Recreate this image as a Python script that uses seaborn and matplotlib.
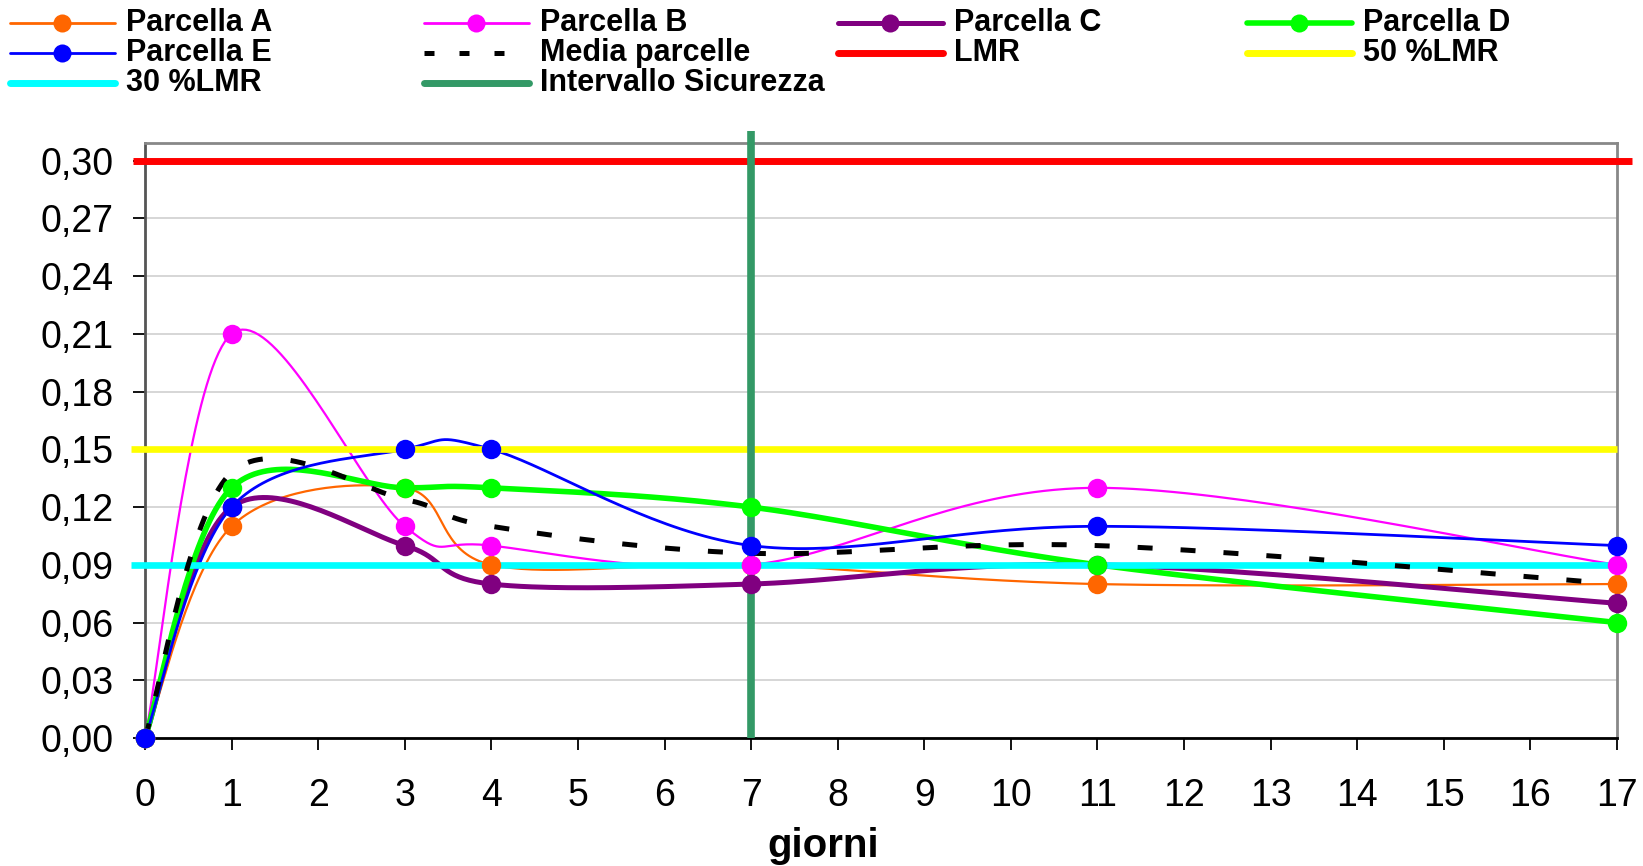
import numpy as np
import pandas as pd
import matplotlib
matplotlib.use("Agg")
import matplotlib.pyplot as plt
from matplotlib.lines import Line2D
import seaborn as sns

# ---------------- data ----------------
giorni = [0, 1, 3, 4, 7, 11, 17]
parcella_a = [0.00, 0.11, 0.13, 0.09, 0.09, 0.08, 0.08]
parcella_b = [0.00, 0.21, 0.11, 0.10, 0.09, 0.13, 0.09]
parcella_c = [0.00, 0.12, 0.10, 0.08, 0.08, 0.09, 0.07]
parcella_d = [0.00, 0.13, 0.13, 0.13, 0.12, 0.09, 0.06]
parcella_e = [0.00, 0.12, 0.15, 0.15, 0.10, 0.11, 0.10]
media = [0.000, 0.138, 0.124, 0.110, 0.096, 0.100, 0.080]
lmr = 0.30
lmr_50 = 0.15
lmr_30 = 0.09
intervallo_sicurezza = 7
y_ticks = [0.00, 0.03, 0.06, 0.09, 0.12, 0.15, 0.18, 0.21, 0.24, 0.27, 0.30]
x_ticks = list(range(0, 18))

sns.set_style("white")
plt.rcParams["font.family"] = ["Liberation Sans", "DejaVu Sans"]
plt.rcParams["text.color"] = "black"
plt.rcParams["axes.labelcolor"] = "black"

fig = plt.figure(figsize=(16.43, 8.66), dpi=100)
ax = fig.add_axes([145 / 1643, 1 - 738 / 866, (1617 - 145) / 1643, (738 - 143) / 866])


def smooth(x, y, n=40):
    """Excel-style smoothed line (Bezier through the points)."""
    P = np.column_stack([x, y]).astype(float)
    E = np.vstack([P[0], P, P[-1]])
    out = []
    t = np.linspace(0, 1, n)[:, None]
    for i in range(len(P) - 1):
        p0, p1, p2, p3 = E[i], E[i + 1], E[i + 2], E[i + 3]
        c1 = p1 + (p2 - p0) / 6
        c2 = p2 - (p3 - p1) / 6
        seg = (1 - t) ** 3 * p1 + 3 * (1 - t) ** 2 * t * c1 + 3 * (1 - t) * t ** 2 * c2 + t ** 3 * p2
        out.append(seg if i == 0 else seg[1:])
    S = np.vstack(out)
    return pd.DataFrame({"x": S[:, 0], "y": S[:, 1]})


series = [
    ("Parcella A", parcella_a, "#FF6600", 1.6),
    ("Parcella B", parcella_b, "#FF00FF", 1.6),
    ("Parcella C", parcella_c, "#800080", 3.6),
    ("Parcella D", parcella_d, "#00FF00", 4.0),
    ("Parcella E", parcella_e, "#0000FF", 2.0),
]

for name, vals, col, lw in series:
    df = smooth(giorni, vals)
    sns.lineplot(data=df, x="x", y="y", ax=ax, color=col, lw=lw, sort=False,
                 estimator=None, zorder=3, legend=False)

# reference lines
ax.plot([-0.14, 17.17], [lmr, lmr], color="#FF0000", lw=5.0, clip_on=False, zorder=4,
        solid_capstyle="butt")
ax.plot([-0.16, 17.0], [lmr_50, lmr_50], color="#FFFF00", lw=4.8, clip_on=False, zorder=4,
        solid_capstyle="butt")
ax.plot([-0.16, 17.0], [lmr_30, lmr_30], color="#00FFFF", lw=4.8, clip_on=False, zorder=4,
        solid_capstyle="butt")
ax.plot([intervallo_sicurezza, intervallo_sicurezza], [0, 0.3154], color="#339966", lw=5.5,
        clip_on=False, zorder=4.5, solid_capstyle="butt")

# media
dfm = smooth(giorni, media)
sns.lineplot(data=dfm, x="x", y="y", ax=ax, color="black", lw=3.6, sort=False,
             estimator=None, zorder=5, legend=False, dashes=False)
ax.lines[-1].set_dashes((3.0, 5.6))
ax.lines[-1].set_dash_capstyle("butt")

# markers
for name, vals, col, lw in series:
    ax.plot(giorni, vals, linestyle="none", marker="o", markersize=14, color=col,
            markeredgewidth=0, zorder=6, clip_on=False)

# axes
ax.set_xlim(0, 17)
ax.set_ylim(0, 0.3092)
ax.set_xticks(x_ticks)
ax.set_yticks(y_ticks)
ax.set_yticklabels([f"{v:.2f}".replace(".", ",") for v in y_ticks])
ax.tick_params(axis="both", direction="out", length=8.6, width=1.3, color="black",
               labelsize=27, labelcolor="black")
ax.tick_params(axis="y", left=True, pad=14)
ax.tick_params(axis="x", bottom=True, pad=20)
ax.grid(axis="y", color="#d0d0d0", lw=1.2)
ax.grid(axis="x", visible=False)
ax.set_axisbelow(True)
for s in ["top", "right"]:
    ax.spines[s].set_color("#888888")
    ax.spines[s].set_linewidth(2)
ax.spines["left"].set_color("#555555")
ax.spines["left"].set_linewidth(2)
ax.spines["bottom"].set_color("black")
ax.spines["bottom"].set_linewidth(2)
ax.set_ylabel("")
ax.set_xlabel("giorni", fontsize=29, fontweight="bold", color="black")
ax.xaxis.set_label_coords((823 - 145) / 1472, -(846 - 738) / 595)
ax.xaxis.label.set_va("center")

# legend (Excel-style fixed grid)
leg_items = [
    ("Parcella A", dict(color="#FF6600", lw=2.0, marker="o")),
    ("Parcella B", dict(color="#FF00FF", lw=2.0, marker="o")),
    ("Parcella C", dict(color="#800080", lw=3.6, marker="o")),
    ("Parcella D", dict(color="#00FF00", lw=4.0, marker="o")),
    ("Parcella E", dict(color="#0000FF", lw=2.0, marker="o")),
    ("Media parcelle", dict(color="black", lw=3.6, marker=None, dash=True)),
    ("LMR", dict(color="#FF0000", lw=5.0, marker=None)),
    ("50 %LMR", dict(color="#FFFF00", lw=5.0, marker=None)),
    ("30 %LMR", dict(color="#00FFFF", lw=5.0, marker=None)),
    ("Intervallo Sicurezza", dict(color="#339966", lw=5.0, marker=None)),
]
col_x = [10, 424, 838, 1247]
row_y = [23, 53, 83]
W, H = 1643, 866
for i, (label, st) in enumerate(leg_items):
    r, c = divmod(i, 4)
    x0 = col_x[c]
    y = 1 - row_y[r] / H
    ln = Line2D([x0 / W, (x0 + 105) / W], [y, y], transform=fig.transFigure,
                color=st["color"], lw=st["lw"], solid_capstyle="round")
    if st.get("dash"):
        ln.set_dashes((2.0, 5.0))
    fig.add_artist(ln)
    if st["marker"]:
        fig.add_artist(Line2D([(x0 + 52) / W], [y], transform=fig.transFigure,
                              marker="o", markersize=13, color=st["color"],
                              markeredgewidth=0, linestyle="none"))
    fig.text((x0 + 116) / W, y, label, fontsize=22, fontweight="bold", va="center",
             ha="left", color="black",
             family=["Liberation Sans Narrow", "Liberation Sans", "DejaVu Sans"])

fig.savefig("out.png", dpi=100)
